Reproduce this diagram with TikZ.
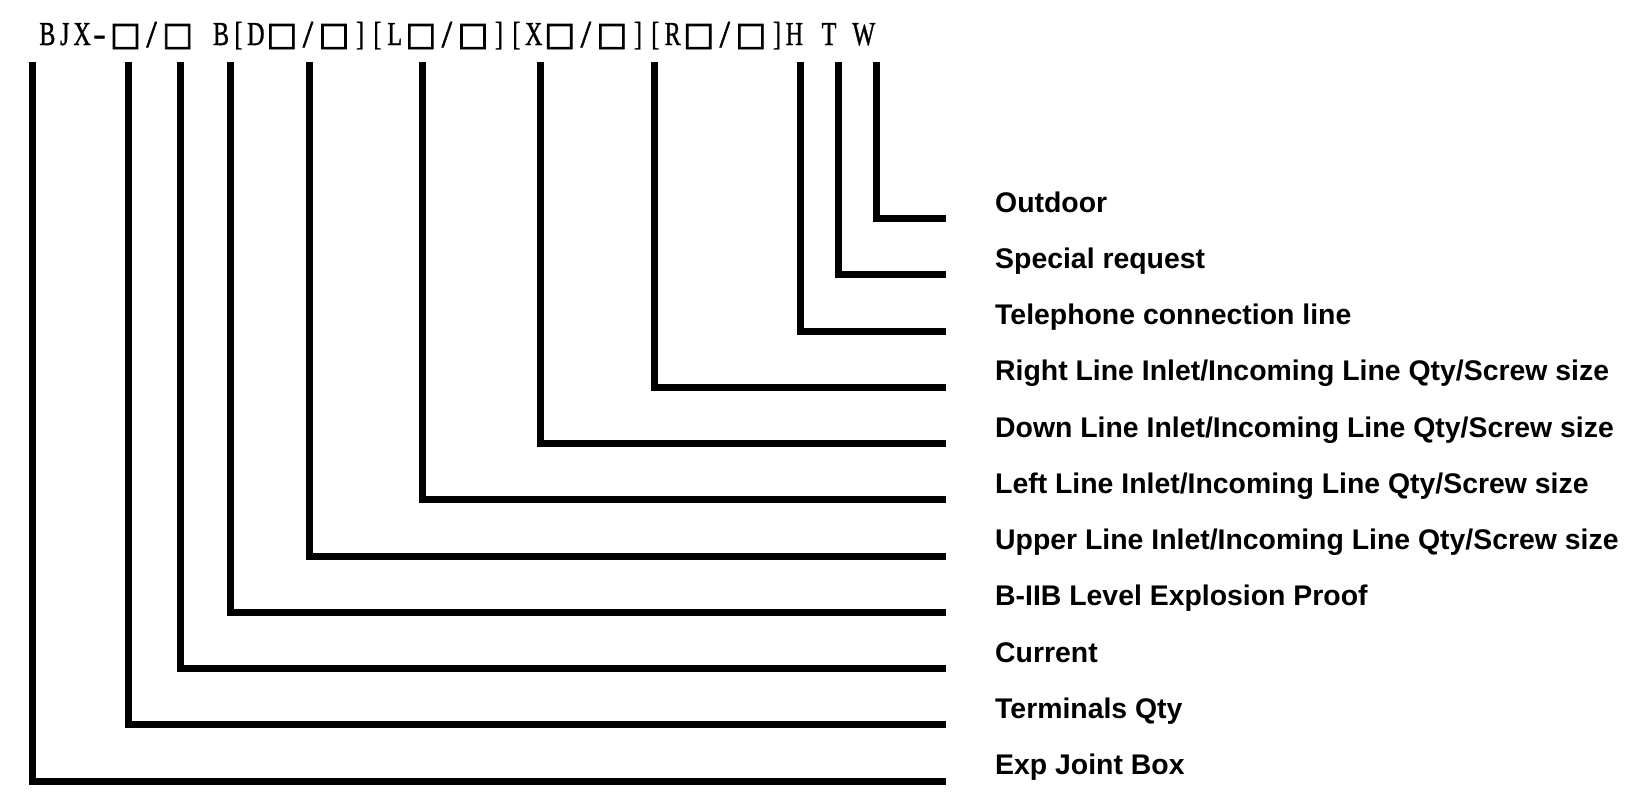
\documentclass[tikz,border=0pt]{standalone}
\usepackage{fontspec}
\usepackage{graphicx}
\setsansfont{Liberation Sans}
\newfontfamily\codefont{Liberation Serif}[FakeBold=1.2]
\newfontfamily\symfont{DejaVu Sans}[FakeBold=2.5]
\newcommand\hc[1]{\makebox[17.37pt]{\scalebox{0.72}[1]{#1}}}
\newcommand\hh{\makebox[17.37pt]{\scalebox{1.1}[1]{-}}}
\newcommand\hs{\makebox[17.37pt]{\raisebox{-2pt}{\fontsize{38}{40}\selectfont /}}}
\newcommand\fc{\makebox[34.74pt]{\symfont\fontsize{32.5}{36}\selectfont □}}
\tikzset{
  lead/.style={line width=7pt, line join=miter, line cap=butt, black},
  lbl/.style={anchor=base west, inner sep=0pt, font=\sffamily\bfseries\fontsize{28.4}{34}\selectfont},
  codestyle/.style={anchor=base west, inner sep=0pt, font=\codefont\fontsize{33.5}{36}\selectfont}
}
\begin{document}
\begin{tikzpicture}[x=1pt,y=-1pt]
\useasboundingbox (0,0) rectangle (1643,807);
\node[codestyle] (code) at (38.5,45) {\hc{B}\hc{J}\hc{X}\hh\fc\hs\fc\hc{ }\hc{B}\hc{[}\hc{D}\fc\hs\fc\hc{]}\hc{[}\hc{L}\fc\hs\fc\hc{]}\hc{[}\hc{X}\fc\hs\fc\hc{]}\hc{[}\hc{R}\fc\hs\fc\hc{]}\hc{H}\hc{ }\hc{T}\hc{ }\hc{W}};
\foreach \n/\x/\y/\t in {
  1/876.5/218.5/Outdoor,
  2/838.5/274.7/Special request,
  3/800.5/331/Telephone connection line,
  4/654.5/387.2/Right Line Inlet\slash Incoming Line Qty\slash Screw size,
  5/540.5/443.5/Down Line Inlet\slash Incoming Line Qty\slash Screw size,
  6/422.5/499.7/Left Line Inlet\slash Incoming Line Qty\slash Screw size,
  7/309.5/556/Upper Line Inlet\slash Incoming Line Qty\slash Screw size,
  8/230.5/612.2/B-IIB Level Explosion Proof,
  9/180.5/668.5/Current,
  10/128.5/724.7/Terminals Qty,
  11/32.5/781/Exp Joint Box}{
  \coordinate (t\n) at (\x,62);
  \coordinate (e\n) at (946,\y);
  \node[lbl] (l\n) at (995,\y-6.5) {\t};
  \draw[lead] (t\n) |- (e\n);
}
\end{tikzpicture}
\end{document}
